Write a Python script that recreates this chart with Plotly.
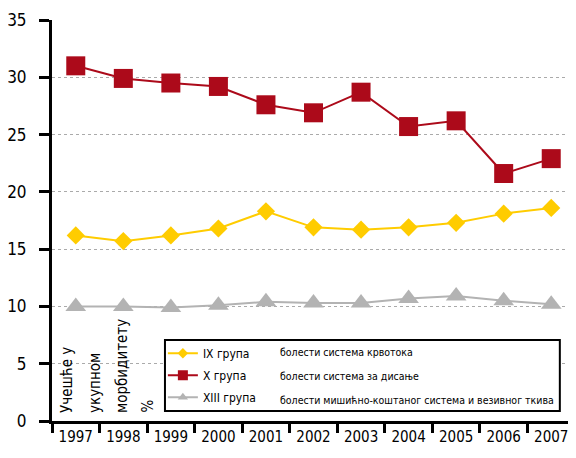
import plotly.graph_objects as go

years = ["1997", "1998", "1999", "2000", "2001", "2002", "2003", "2004", "2005", "2006", "2007"]
group_ix = [16.2, 15.7, 16.2, 16.8, 18.3, 16.9, 16.7, 16.9, 17.3, 18.1, 18.6]
group_x = [31.0, 29.9, 29.5, 29.2, 27.6, 26.9, 28.7, 25.7, 26.2, 21.6, 22.9]
group_xiii = [10.0, 10.0, 9.9, 10.1, 10.4, 10.3, 10.3, 10.7, 10.9, 10.5, 10.2]

names = ["IX група", "X група", "XIII група"]
descriptions = ["болести система крвотока", "болести система за дисање",
                "болести мишићно-коштаног система и везивног ткива"]
y_title_lines = ["Учешће у", "укупном", "морбидитету", "%"]

colors = ["#FFCC00", "#AC0A1A", "#B3B3B3"]
symbols = ["diamond", "square", "triangle-up"]
plot_sizes = [14, 19, 18]
legend_sizes = [8, 10, 9]

FONT = "DejaVu Sans Condensed, DejaVu Sans, sans-serif"

fig = go.Figure()
for vals, nm, c, s, ps, grp in zip([group_ix, group_x, group_xiii], names, colors, symbols,
                                   plot_sizes, ["a", "b", "c"]):
    fig.add_trace(go.Scatter(x=years, y=vals, name=nm, mode="lines+markers", legendgroup=grp,
                             showlegend=False, line=dict(color=c, width=2),
                             marker=dict(symbol=s, size=ps, color=c)))
for nm, c, s, ls, grp in zip(names, colors, symbols, legend_sizes, ["a", "b", "c"]):
    fig.add_trace(go.Scatter(x=[None], y=[None], name=nm, mode="lines+markers", legendgroup=grp,
                             showlegend=True, line=dict(color=c, width=2),
                             marker=dict(symbol=s, size=ls, color=c)))

# legend frame
fig.add_shape(type="rect", xref="paper", yref="paper", x0=0.216, x1=0.971, y0=0.025, y1=0.202,
              line=dict(color="black", width=2), fillcolor="white", layer="above")

rows_y = [0.172, 0.112, 0.052]
for d, yy in zip(descriptions, rows_y):
    fig.add_annotation(xref="paper", yref="paper", x=0.432, y=yy, text=d, showarrow=False,
                       xanchor="left", yanchor="middle", font=dict(family=FONT, size=10.5, color="black"))

title_x = [67, 95, 122, 147]
for t, px in zip(y_title_lines, title_x):
    fig.add_annotation(xref="paper", yref="paper", x=(px - 52) / 523, y=(421 - 415) / 401, text=t,
                       showarrow=False, textangle=-90, xanchor="center", yanchor="bottom",
                       font=dict(family=FONT, size=15, color="black"))

# the page body has an 8px margin, so the figure is 8px smaller and its margins shifted
fig.update_layout(
    width=568, height=450,
    margin=dict(l=44, r=1, t=12, b=37),
    paper_bgcolor="white", plot_bgcolor="white",
    font=dict(family=FONT, color="black"),
    showlegend=True,
    legend=dict(x=0.212, y=0.205, xanchor="left", yanchor="top",
                bgcolor="rgba(0,0,0,0)", borderwidth=0,
                font=dict(family=FONT, size=12, color="black"), tracegroupgap=3),
    xaxis=dict(type="category", tickson="boundaries", showline=True, linecolor="black", linewidth=3,
               ticks="outside", ticklen=9, tickwidth=3, tickcolor="black", showgrid=False,
               automargin=False,
               tickangle=0, tickfont=dict(family=FONT, size=15), range=[-0.5, 10.5], fixedrange=True),
    yaxis=dict(range=[0, 35], dtick=5, showline=True, linecolor="black", linewidth=3,
               ticks="outside", ticklen=10, tickwidth=3, tickcolor="black", ticklabelstandoff=9,
               automargin=False,
               showgrid=True, gridcolor="#AAAAAA", griddash="dot", gridwidth=1,
               zeroline=False, tickfont=dict(family=FONT, size=17)),
)

fig.write_html("out.html")
